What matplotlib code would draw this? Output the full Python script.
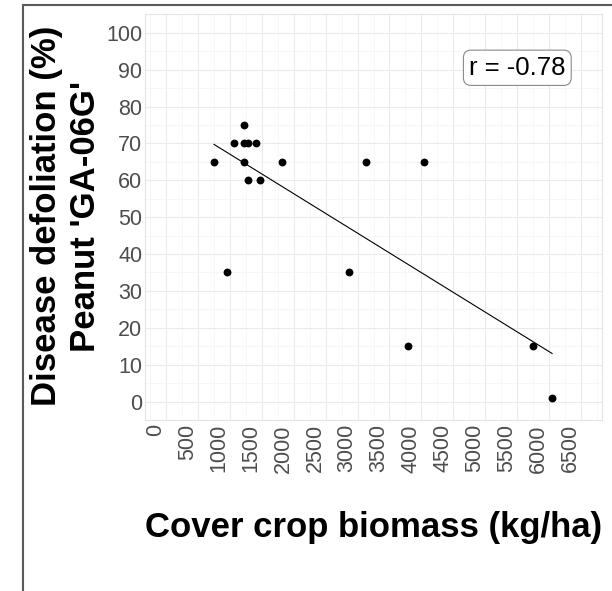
import numpy as np
import matplotlib
matplotlib.use("Agg")
from matplotlib import pyplot as plt
from matplotlib.patches import Rectangle
from matplotlib.ticker import MultipleLocator

plt.rcParams['font.family'] = ['Liberation Sans', 'DejaVu Sans']

# cover crop biomass (kg/ha) vs disease defoliation (%)
biomass = [755, 963, 1072, 1228, 1228, 1228, 1291, 1286, 1411, 1473,
           1817, 2864, 3130, 3786, 4036, 5750, 6044]
defoliation = [65, 35, 70, 75, 70, 65, 70, 60, 70, 60,
               65, 35, 65, 15, 65, 15, 1]
r_label = "r = -0.78"

fig = plt.figure(figsize=(6.12, 5.91), dpi=100)
ax = fig.add_axes([145/612, 1 - 420/591, 457/612, 405.7/591])

# linear fit across the data range
slope, intercept = np.polyfit(biomass, defoliation, 1)
xfit = np.array([min(biomass), max(biomass)])
ax.plot(xfit, slope*xfit + intercept, color="black", lw=0.8, zorder=3)
ax.scatter(biomass, defoliation, s=32, color="black", zorder=4, linewidths=0)

ax.set_xlim(-325, 6825)
ax.set_ylim(-5, 105)
ax.xaxis.set_major_locator(MultipleLocator(500))
ax.xaxis.set_minor_locator(MultipleLocator(250))
ax.yaxis.set_major_locator(MultipleLocator(10))
ax.yaxis.set_minor_locator(MultipleLocator(5))
ax.grid(which="major", color="#EBEBEB", lw=0.8)
ax.grid(which="minor", color="#F4F4F4", lw=0.5)
ax.set_axisbelow(True)
for s in ax.spines.values():
    s.set_color("#E3E3E3")
    s.set_linewidth(0.8)

ax.tick_params(which="both", length=0)
ax.tick_params(axis="y", labelsize=15.5, labelcolor="#4D4D4D", pad=2)
ax.tick_params(axis="x", labelsize=15.5, labelcolor="#4D4D4D", pad=3)
for lab in ax.get_xticklabels():
    lab.set_rotation(90)
    lab.set_ha("right")
    lab.set_va("top")

ax.text(5500, 90.5, r_label, fontsize=18.5, ha="center", va="center",
        bbox=dict(boxstyle="round,pad=0.22,rounding_size=0.3", fc="white",
                  ec="#8A8A8A", lw=0.8))

fig.text(66/612, 1 - 216/591, "Disease defoliation (%)\nPeanut 'GA-06G'",
         rotation=90, ha="center", va="center", multialignment="center",
         fontsize=25, fontweight="bold", linespacing=1.22)
fig.text(374/612, 1 - 528/591, "Cover crop biomass (kg/ha)",
         ha="center", va="center", fontsize=25, fontweight="bold")

fig.add_artist(Rectangle((22.7/612, -0.1), 1.2, 1.1 - 4.7/591,
                         transform=fig.transFigure, fill=False,
                         ec="#5A5A5A", lw=1.5))

fig.savefig("out.png", dpi=100)
